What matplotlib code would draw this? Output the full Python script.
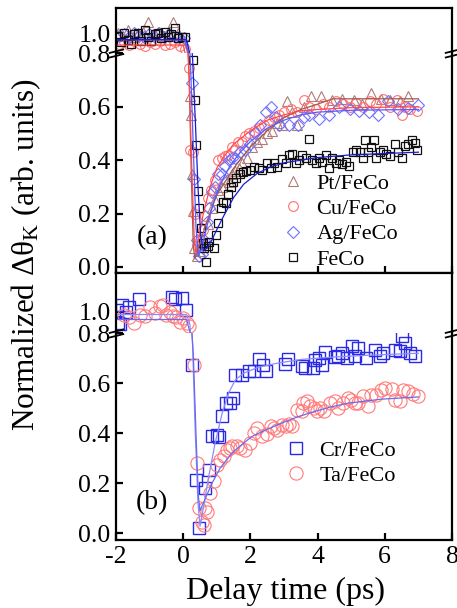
import numpy as np
import matplotlib.pyplot as plt
from matplotlib.path import Path

plt.rcParams['font.family'] = ['Liberation Serif', 'DejaVu Serif']
plt.rcParams['mathtext.fontset'] = 'custom'
plt.rcParams['mathtext.rm'] = 'Liberation Serif'
plt.rcParams['mathtext.it'] = 'Liberation Serif:italic'
plt.rcParams['axes.unicode_minus'] = False

# ---------------- panel (a) ----------------
t_pt = [-1.95, -1.8, -1.65, -1.5, -1.35, -1.2, -1.05, -0.9, -0.75, -0.6, -0.45, -0.3, -0.15, 0.0,
        0.21, 0.23, 0.26, 0.29, 0.33, 0.41, 0.5, 0.65, 0.75, 0.85, 0.95, 1.05, 1.15, 1.25, 1.35,
        1.45, 1.55, 1.65, 1.75, 1.9, 2.05, 2.2, 2.35, 2.5, 2.65, 2.8, 2.95, 3.1, 3.25, 3.4, 3.6,
        3.8, 4.1, 4.43, 4.73, 5.07, 5.32, 5.6, 5.9, 6.16, 6.45, 6.7]
v_pt = [1.0, 0.99, 1.01, 0.985, 1.0, 1.005, 1.04, 0.995, 1.005, 0.99, 1.0, 1.04, 1.0, 0.975,
        0.64, 0.57, 0.35, 0.21, 0.07, 0.04, 0.06, 0.09, 0.16, 0.22, 0.25, 0.29, 0.3, 0.33, 0.32,
        0.35, 0.36, 0.37, 0.39, 0.41, 0.45, 0.47, 0.48, 0.5, 0.51, 0.54, 0.53, 0.62, 0.58, 0.53, 0.6,
        0.64, 0.64, 0.625, 0.63, 0.625, 0.61, 0.65, 0.63, 0.625, 0.62, 0.64]

t_cu = [-1.9, -1.75, -1.6, -1.45, -1.3, -1.15, -1.0, -0.85, -0.7, -0.55, -0.4, -0.25, -0.1, 0.05,
        0.18, 0.21, 0.28, 0.36, 0.42, 0.5, 0.58, 0.66, 0.74, 0.84, 0.94, 1.04, 1.14, 1.24, 1.34,
        1.44, 1.54, 1.64, 1.74, 1.84, 1.95, 2.1, 2.25, 2.4, 2.55, 2.7, 2.85, 3.0, 3.2, 3.4, 3.6,
        3.75, 3.95, 4.15, 4.35, 4.55, 4.75, 4.95, 5.15, 5.35, 5.55, 5.75, 5.95, 6.15, 6.35, 6.5,
        6.6, 6.75, 6.95]
v_cu = [0.96, 0.965, 0.955, 0.97, 0.96, 0.95, 0.965, 0.96, 0.97, 0.955, 0.96, 0.965, 0.95, 0.94,
        0.745, 0.44, 0.43, 0.2, 0.08, 0.1, 0.14, 0.19, 0.26, 0.29, 0.325, 0.4, 0.41, 0.415, 0.42,
        0.45, 0.44, 0.47, 0.47, 0.49, 0.5, 0.51, 0.52, 0.53, 0.55, 0.56, 0.57, 0.58, 0.59, 0.58, 0.625,
        0.6, 0.59, 0.61, 0.6, 0.62, 0.61, 0.6, 0.615, 0.6, 0.62, 0.61, 0.63, 0.6, 0.625, 0.57,
        0.6, 0.59, 0.585]

t_ag = [-1.92, -1.77, -1.62, -1.47, -1.32, -1.17, -1.02, -0.87, -0.72, -0.57, -0.42, -0.27, -0.12, 0.03,
        0.27, 0.33, 0.4, 0.46, 0.55, 0.62, 0.7, 0.78, 0.86, 0.95, 1.05, 1.15, 1.25, 1.35, 1.45,
        1.55, 1.7, 1.85, 2.0, 2.15, 2.3, 2.46, 2.6, 2.75, 2.86, 3.15, 3.42, 3.6, 3.74, 4.04, 4.33,
        4.63, 4.95, 5.22, 5.52, 5.81, 6.1, 6.4, 6.7, 6.99]
v_ag = [0.99, 0.995, 0.985, 1.0, 0.99, 0.985, 0.995, 0.99, 1.0, 0.985, 0.995, 0.99, 0.985, 0.98,
        0.69, 0.33, 0.1, 0.04, 0.05, 0.1, 0.17, 0.22, 0.28, 0.3, 0.35, 0.35, 0.38, 0.4, 0.41,
        0.41, 0.43, 0.44, 0.46, 0.5, 0.53, 0.58, 0.6, 0.56, 0.53, 0.53, 0.53, 0.56, 0.57, 0.555, 0.57,
        0.6, 0.59, 0.585, 0.58, 0.57, 0.62, 0.59, 0.595, 0.605]

t_feco = [-1.95, -1.85, -1.75, -1.65, -1.55, -1.45, -1.35, -1.25, -1.15, -1.05, -0.95, -0.85,
          -0.75, -0.65, -0.55, -0.45, -0.35, -0.25, -0.15, -0.05, 0.05,
          0.28, 0.34, 0.39, 0.44, 0.47, 0.53, 0.59, 0.63, 0.67, 0.73, 0.78, 0.93, 0.98, 1.03, 1.13,
          1.18, 1.28, 1.33, 1.43, 1.48, 1.58, 1.68, 1.78, 1.87, 2.0, 2.12, 2.25, 2.35, 2.5, 2.6,
          2.7, 2.8, 2.95, 3.05, 3.15, 3.25, 3.35, 3.45, 3.55, 3.65, 3.74, 3.84, 3.94, 4.04, 4.14,
          4.24, 4.34, 4.44, 4.54, 4.64, 4.74, 4.84, 4.94, 5.04, 5.14, 5.27, 5.35, 5.42, 5.5, 5.6,
          5.67, 5.75, 5.85, 5.95, 6.05, 6.15, 6.3, 6.4, 6.5, 6.6, 6.7, 6.8, 6.9, 6.97]
v_feco = [0.99, 0.965, 1.0, 0.975, 0.96, 0.995, 1.0, 0.97, 1.01, 0.985, 0.97, 0.995, 1.0, 0.98,
          1.005, 0.985, 0.995, 1.02, 0.98, 0.985, 0.985,
          0.775, 0.627, 0.456, 0.284, 0.222, 0.146, 0.091, 0.07, 0.02, 0.08, 0.095, 0.07, 0.12,
          0.165, 0.22, 0.245, 0.24, 0.275, 0.3, 0.32, 0.335, 0.35, 0.355, 0.36, 0.365, 0.375, 0.37,
          0.365, 0.39, 0.37, 0.39, 0.375, 0.405, 0.39, 0.42, 0.425, 0.39, 0.4, 0.42, 0.41, 0.48,
          0.4, 0.39, 0.41, 0.395, 0.42, 0.37, 0.41, 0.39, 0.4, 0.385, 0.395, 0.38, 0.43, 0.44,
          0.43, 0.41, 0.475, 0.43, 0.45, 0.475, 0.41, 0.43, 0.44, 0.425, 0.415, 0.46, 0.43, 0.41,
          0.455, 0.46, 0.475, 0.465, 0.44]

fit_pt_t = [-2.0, 0.05, 0.12, 0.18, 0.24, 0.3, 0.35, 0.5, 0.7, 1.0, 1.5, 2.0, 2.5, 3.0, 3.5, 4.0, 4.45, 7.0]
fit_pt_v = [0.975, 0.975, 0.93, 0.7, 0.35, 0.08, 0.03, 0.09, 0.17, 0.27, 0.37, 0.45, 0.51, 0.56, 0.59, 0.61, 0.63, 0.63]
fit_cu_t = [-2.0, 0.0, 0.1, 0.18, 0.26, 0.33, 0.38, 0.45, 0.6, 0.8, 1.0, 1.25, 1.5, 2.0, 2.5, 3.0, 3.5, 4.0, 5.0, 7.0]
fit_cu_v = [0.955, 0.955, 0.9, 0.7, 0.35, 0.1, 0.05, 0.1, 0.2, 0.3, 0.37, 0.42, 0.46, 0.51, 0.55, 0.57, 0.585, 0.59, 0.597, 0.6]
fit_ag_t = [-2.0, 0.05, 0.15, 0.22, 0.3, 0.38, 0.45, 0.55, 0.7, 0.9, 1.1, 1.4, 1.7, 2.0, 2.5, 3.0, 3.5, 4.0, 5.0, 7.0]
fit_ag_v = [0.975, 0.975, 0.93, 0.75, 0.45, 0.15, 0.04, 0.07, 0.15, 0.24, 0.31, 0.38, 0.43, 0.47, 0.52, 0.55, 0.57, 0.58, 0.587, 0.59]
fit_feco_t = [-2.0, 0.1, 0.2, 0.28, 0.36, 0.44, 0.52, 0.6, 0.7, 0.85, 1.0, 1.2, 1.5, 1.8, 2.2, 2.6, 3.0, 3.5, 4.0, 5.0, 6.0, 7.0]
fit_feco_v = [0.975, 0.975, 0.92, 0.78, 0.55, 0.3, 0.12, 0.06, 0.07, 0.1, 0.14, 0.19, 0.26, 0.31, 0.35, 0.375, 0.39, 0.4, 0.41, 0.42, 0.425, 0.43]

# ---------------- panel (b) ----------------
t_cr = [-1.96, -1.94, -1.89, -1.81, -1.71, -1.6, -1.31, -0.33, -0.23, -0.03, 0.09,
        0.25, 0.37, 0.46, 0.64, 0.76, 0.86, 1.0, 1.06, 1.16, 1.26, 1.38, 1.48, 1.55, 1.75, 1.97,
        2.1, 2.25, 2.38, 2.45, 3.03, 3.13, 3.53, 3.63, 3.85, 3.93, 4.03, 4.13, 4.23, 4.52, 4.62,
        4.72, 4.87, 5.01, 5.11, 5.2, 5.45, 5.7, 5.85, 5.95, 6.3, 6.45, 6.5, 6.6, 6.74, 6.9]
v_cr = [1.007, 0.955, 0.953, 1.03, 1.0, 1.02, 1.053, 1.06, 1.053, 1.057, 1.01,
        0.673, 0.213, 0.02, 0.18, 0.253, 0.39, 0.393, 0.383, 0.47, 0.52, 0.52, 0.54, 0.633, 0.633,
        0.647, 0.647, 0.697, 0.673, 0.65, 0.677, 0.696, 0.67, 0.66, 0.66, 0.693, 0.70, 0.673,
        0.724, 0.704, 0.71, 0.72, 0.70, 0.749, 0.707, 0.74, 0.70, 0.733, 0.707, 0.72, 0.733,
        0.727, 0.787, 0.76, 0.72, 0.71]

t_ta = [-1.75, -1.6, -1.45, -1.3, -1.15, -1.0, -0.85, -0.7, -0.6, -0.5, -0.4, -0.3, -0.2, -0.1,
        0.0, 0.1, 0.18,
        0.32, 0.42, 0.47, 0.55, 0.61, 0.66, 0.71, 0.81, 0.91, 1.01, 1.11, 1.21, 1.31, 1.4, 1.46,
        1.6, 1.7, 1.85, 2.0, 2.1, 2.2, 2.35, 2.5, 2.6, 2.7, 2.8, 2.95, 3.05, 3.15, 3.25, 3.38,
        3.53, 3.58, 3.68, 3.78, 3.88, 3.97, 4.07, 4.2, 4.37, 4.52, 4.62, 4.75, 4.91, 5.0, 5.1,
        5.2, 5.35, 5.5, 5.6, 5.75, 5.9, 6.0, 6.2, 6.3, 6.45, 6.55, 6.7, 6.85, 7.0]
v_ta = [0.99, 0.98, 0.955, 0.99, 0.985, 1.02, 0.995, 1.025, 1.03, 0.99, 1.0, 0.985, 0.98, 0.96,
        0.975, 0.955, 0.945,
        0.673, 0.28, 0.1, 0.045, 0.033, 0.1, 0.084, 0.16, 0.207, 0.273, 0.293, 0.307, 0.333, 0.34,
        0.347, 0.35, 0.34, 0.333, 0.36, 0.4, 0.42, 0.387, 0.397, 0.427, 0.42, 0.413, 0.433, 0.43,
        0.436, 0.43, 0.493, 0.487, 0.52, 0.527, 0.507, 0.5, 0.49, 0.5, 0.49, 0.52, 0.527, 0.5,
        0.52, 0.54, 0.533, 0.52, 0.52, 0.547, 0.507, 0.553, 0.553, 0.573, 0.58, 0.577, 0.533,
        0.527, 0.573, 0.567, 0.556, 0.547]

fit_cr_t = [-2.0, 0.1, 0.2, 0.28, 0.36, 0.44, 0.5, 0.6, 0.76, 0.95, 1.16, 1.35, 1.55, 1.8, 2.24, 2.8, 3.5, 4.5, 5.5, 7.0]
fit_cr_v = [0.99, 0.99, 0.95, 0.75, 0.4, 0.12, 0.027, 0.1, 0.227, 0.36, 0.48, 0.56, 0.613, 0.64, 0.664, 0.68, 0.695, 0.705, 0.712, 0.72]
fit_ta_t = [-2.0, 0.1, 0.2, 0.3, 0.38, 0.45, 0.5, 0.6, 0.86, 1.1, 1.45, 1.75, 2.05, 2.5, 2.93, 3.4, 3.92, 4.4, 4.91, 5.9, 7.0]
fit_ta_v = [0.97, 0.97, 0.92, 0.72, 0.4, 0.15, 0.09, 0.12, 0.2, 0.26, 0.32, 0.355, 0.387, 0.415, 0.44, 0.465, 0.487, 0.505, 0.52, 0.536, 0.545]

x_ticks = [-2, 0, 2, 4, 6, 8]
y_ticks_low = [0.0, 0.2, 0.4, 0.6, 0.8]
y_ticks_high = [1.0]

SPINE_W = 1.6
TICK_FS = 18.5
LEG_FS = 16
FIG_W, FIG_H = 457, 608


def rect(top_px, bottom_px):
    # axes rectangle from pixel rows of the figure
    left, right = 116, 452
    return [left / FIG_W, 1 - bottom_px / FIG_H, (right - left) / FIG_W, (bottom_px - top_px) / FIG_H]


def style_axis(ax, ylim, yticks, show_xticks, show_xlabels):
    ax.set_xlim(-2, 8)
    ax.set_ylim(*ylim)
    ax.set_xticks(x_ticks)
    ax.set_yticks(yticks)
    ax.yaxis.set_major_formatter(plt.FormatStrFormatter('%.1f'))
    for s in ax.spines.values():
        s.set_linewidth(SPINE_W)
    ax.tick_params(axis='y', direction='in', length=5, width=1.6, labelsize=TICK_FS, pad=4,
                   left=True, right=False)
    ax.tick_params(axis='x', direction='in', length=5, width=1.6, labelsize=TICK_FS, pad=4,
                   bottom=show_xticks, top=False, labelbottom=show_xlabels)


def broken_panel(fig, top_px, mid_px, bottom_px, high_lim, low_lim, show_xlabels):
    ax_hi = fig.add_axes(rect(top_px, mid_px))
    ax_lo = fig.add_axes(rect(mid_px, bottom_px))
    style_axis(ax_hi, high_lim, y_ticks_high, False, False)
    style_axis(ax_lo, low_lim, y_ticks_low, True, show_xlabels)
    ax_hi.spines['bottom'].set_visible(False)
    ax_lo.spines['top'].set_visible(False)
    # double slash on both spines where the y axis is cut
    slash = Path([(-1, -0.55), (1, -0.05), (-1, 0.05), (1, 0.55)],
                 [Path.MOVETO, Path.LINETO, Path.MOVETO, Path.LINETO])
    ax_lo.plot([0, 1], [1, 1], transform=ax_lo.transAxes, ls='none', marker=slash,
               ms=11, mew=1.3, color='k', clip_on=False, zorder=10)
    return ax_hi, ax_lo


def plot_both(axes, x, y, **fmt):
    for ax in axes:
        line, = ax.plot(x, y, **fmt)
    return line


def add_legend(ax, handles, x_px, y_px):
    ax.legend(handles=handles, loc='upper left',
              bbox_to_anchor=(x_px / FIG_W, 1 - y_px / FIG_H), bbox_transform=fig.transFigure,
              frameon=False, fontsize=LEG_FS, borderpad=0, borderaxespad=0, handlelength=1.0,
              handletextpad=0.55, labelspacing=0.22)


fig = plt.figure(figsize=(FIG_W / 100, FIG_H / 100), dpi=100)

# panel (a)
axa = broken_panel(fig, 8, 53, 273, (0.925, 1.094), (-0.0225, 0.8015), False)
h_pt = plot_both(axa, t_pt, v_pt, ls='none', marker='^', ms=7, mfc='none', mec='#b07c78', mew=0.8, label='Pt/FeCo')
h_cu = plot_both(axa, t_cu, v_cu, ls='none', marker='o', ms=7, mfc='none', mec='#ff7070', mew=0.8, label='Cu/FeCo')
h_ag = plot_both(axa, t_ag, v_ag, ls='none', marker='D', ms=6.3, mfc='none', mec='#7070ff', mew=0.8, label='Ag/FeCo')
h_fe = plot_both(axa, t_feco, v_feco, ls='none', marker='s', ms=6, mfc='none', mec='#101010', mew=0.9, label='FeCo')
plot_both(axa, fit_pt_t, fit_pt_v, color='#a05a50', lw=0.9)
plot_both(axa, fit_cu_t, fit_cu_v, color='#ff4a4a', lw=0.9)
plot_both(axa, fit_ag_t, fit_ag_v, color='#5a5aff', lw=0.9)
plot_both(axa, fit_feco_t, fit_feco_v, color='#1a1ad0', lw=0.9)
add_legend(axa[1], [h_pt, h_cu, h_ag, h_fe], 282, 173)
fig.text(152 / FIG_W, 1 - 238 / FIG_H, '(a)', fontsize=20, ha='center', va='center')

# panel (b)
axb = broken_panel(fig, 273, 333, 540, (0.916, 1.156), (-0.028, 0.801), True)
h_cr = plot_both(axb, t_cr, v_cr, ls='none', marker='s', ms=8, mfc='none', mec='#2a2ae6', mew=1.0, label='Cr/FeCo')
h_ta = plot_both(axb, t_ta, v_ta, ls='none', marker='o', ms=9.5, mfc='none', mec='#ff7a7a', mew=0.8, label='Ta/FeCo')
plot_both(axb, fit_cr_t, fit_cr_v, color='#8c8cff', lw=0.9)
plot_both(axb, fit_ta_t, fit_ta_v, color='#6a6af0', lw=0.9)
add_legend(axb[1], [h_cr, h_ta], 285, 440)
fig.text(152 / FIG_W, 1 - 503 / FIG_H, '(b)', fontsize=20, ha='center', va='center')

fig.text(26 / FIG_W, 1 - 255 / FIG_H, r'Normalized Δθ$_{\mathrm{K}}$ (arb. units)',
         rotation=90, fontsize=22.5, ha='center', va='center')
fig.text(285 / FIG_W, 1 - 591 / FIG_H, 'Delay time (ps)', fontsize=23, ha='center', va='center')

fig.savefig('out.png', dpi=100)
